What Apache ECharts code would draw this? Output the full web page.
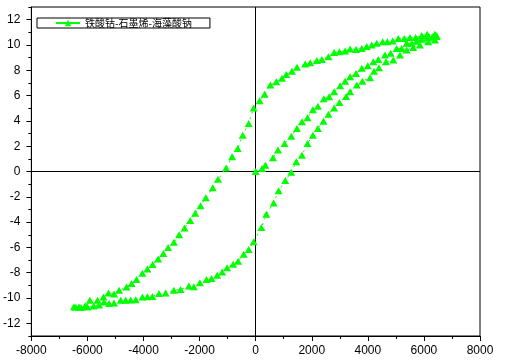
<!DOCTYPE html>
<html>
<head>
<meta charset="utf-8">
<script src="https://cdn.jsdelivr.net/npm/echarts@6/dist/echarts.min.js"></script>
<style>
html,body{margin:0;padding:0;background:#fff;}
#c{width:506px;height:361px;}
</style>
</head>
<body>
<div id="c"></div>
<script>
// ---- data (H in Oe, M in emu/g) ----
const seriesName = '铁酸钴-石墨烯-海藻酸钠';

// initial magnetization curve
const initH = [0, 228, 345, 619, 797, 1031, 1269, 1472, 1650, 1849, 2041, 2219, 2430, 2621, 2799, 3012, 3190, 3368, 3581, 3784, 3997, 4196, 4374, 4612, 4815, 5028, 5206, 5384, 5562, 5739, 5917, 6116, 6300, 6450];
const initM = [0, 0.24, 0.50, 1.08, 1.69, 2.22, 2.79, 3.40, 3.93, 4.25, 4.88, 5.15, 5.75, 5.91, 6.31, 6.78, 7.14, 7.49, 7.75, 8.15, 8.36, 8.68, 8.86, 9.20, 9.34, 9.73, 9.73, 10.13, 10.13, 10.30, 10.45, 10.55, 10.65, 10.75];

// descending branch
const descH = [6450, 6390, 6116, 5917, 5704, 5501, 5298, 5085, 4886, 4695, 4530, 4317, 4139, 3961, 3784, 3581, 3368, 3190, 2987, 2799, 2596, 2361, 2183, 1945, 1767, 1472, 1294, 1092, 939, 736, 523, 320, 142, -71, -249, -462, -640, -839, -1053, -1344, -1529, -1777, -1966, -2156, -2335, -2535, -2731, -2916, -3122, -3293, -3478, -3674, -3862, -4040, -4248, -4426, -4604, -4872, -5050, -5249, -5427, -5640, -5913, -6081, -6300, -6482];
const descM = [10.66, 10.84, 10.84, 10.74, 10.58, 10.58, 10.52, 10.52, 10.31, 10.26, 10.26, 10.13, 9.99, 9.87, 9.73, 9.65, 9.68, 9.52, 9.47, 9.41, 9.07, 8.86, 8.78, 8.60, 8.49, 8.23, 7.93, 7.67, 7.36, 7.10, 6.83, 6.10, 5.60, 5.02, 3.80, 2.87, 1.82, 1.16, 0.28, -0.62, -1.28, -2.07, -2.70, -3.30, -3.88, -4.47, -5.00, -5.60, -6.00, -6.48, -6.91, -7.35, -7.71, -8.04, -8.54, -8.85, -9.13, -9.39, -9.69, -9.60, -9.91, -10.18, -10.18, -10.60, -10.70, -10.68];

// ascending branch
const ascH = [-6410, -6233, -5996, -5780, -5583, -5405, -5227, -5050, -4811, -4634, -4456, -4278, -4040, -3862, -3684, -3449, -3211, -2916, -2678, -2382, -2205, -1991, -1753, -1575, -1373, -1195, -1017, -804, -626, -427, -249, -71, 203, 380, 640, 818, 1056, 1269, 1447, 1650, 1849, 2041, 2219, 2418, 2596, 2799, 2987, 3226, 3368, 3606, 3805, 4079, 4221, 4399, 4648, 4908, 5146, 5384, 5619, 5857, 6152, 6390];
const ascM = [-10.72, -10.74, -10.70, -10.62, -10.55, -10.31, -10.44, -10.40, -10.18, -10.18, -10.16, -10.14, -9.91, -9.90, -9.88, -9.65, -9.60, -9.39, -9.33, -9.05, -9.10, -8.80, -8.54, -8.45, -8.20, -7.94, -7.60, -7.33, -7.10, -6.54, -6.17, -5.56, -4.43, -3.38, -2.48, -1.53, -0.72, -0.06, 0.77, 1.29, 2.22, 2.87, 3.40, 3.97, 4.52, 5.02, 5.46, 5.93, 6.31, 6.83, 7.14, 7.41, 7.93, 8.20, 8.68, 8.81, 9.20, 9.60, 9.79, 9.99, 10.26, 10.39];

// axis ticks
const xTicks = [-8000, -6000, -4000, -2000, 0, 2000, 4000, 6000, 8000];
const yMajorTicks = [-12, -10, -8, -6, -4, -2, 0, 2, 4, 6, 8, 10, 12];
const yMinorTicks = [-13, -11, -9, -7, -5, -3, -1, 1, 3, 5, 7, 9, 11, 13];

// ---- build ----
const pts = [];
[[initH, initM], [descH, descM], [ascH, ascM]].forEach(([h, m]) => {
  for (let i = 0; i < h.length; i++) pts.push([h[i], m[i]]);
});

const labelFont = {color: '#000', fontSize: 12, fontFamily: 'Liberation Sans, Arial, sans-serif', formatter: v => String(v)};
const chart = echarts.init(document.getElementById('c'), null, {renderer: 'canvas'});
chart.setOption({
  animation: false,
  backgroundColor: '#fff',
  grid: {left: 30, right: 26, top: 7, bottom: 25, show: true, borderColor: '#000', borderWidth: 1, backgroundColor: 'transparent'},
  legend: {
    left: 37, top: 18,
    padding: [0, 18, 0, 18],
    borderColor: '#000', borderWidth: 1,
    itemWidth: 24, itemHeight: 8, itemGap: 4,
    textStyle: {color: '#000', fontSize: 10, fontFamily: 'Noto Sans CJK SC', lineHeight: 10},
    lineStyle: {type: 'solid', width: 2},
    data: [seriesName]
  },
  xAxis: {
    type: 'value', min: xTicks[0], max: xTicks[xTicks.length - 1], interval: 2000,
    axisLine: {onZero: false, lineStyle: {color: '#000', width: 1}},
    axisTick: {show: true, inside: false, length: 5, lineStyle: {color: '#000'}},
    minorTick: {show: true, splitNumber: 2, length: 3, lineStyle: {color: '#000'}},
    splitLine: {show: false},
    axisLabel: Object.assign({margin: 9}, labelFont)
  },
  yAxis: [{
    type: 'value', min: -13, max: 13,
    axisLine: {onZero: false, lineStyle: {color: '#000', width: 1}},
    axisTick: {show: true, inside: false, length: 5, customValues: yMajorTicks, lineStyle: {color: '#000'}},
    splitLine: {show: false},
    axisLabel: Object.assign({margin: 11, customValues: yMajorTicks}, labelFont)
  }, {
    type: 'value', min: -13, max: 13, position: 'left',
    axisLine: {show: false, onZero: false},
    axisTick: {show: true, inside: false, length: 3, customValues: yMinorTicks, lineStyle: {color: '#000'}},
    splitLine: {show: false},
    axisLabel: {show: false}
  }],
  series: [{
    name: seriesName,
    type: 'line',
    data: pts,
    symbol: 'triangle',
    symbolSize: [8, 7],
    showAllSymbol: true,
    itemStyle: {color: '#00ff00'},
    lineStyle: {color: '#00ff00', width: 1, type: [2, 4]},
    z: 3,
    markLine: {
      silent: true, symbol: 'none', animation: false,
      label: {show: false},
      lineStyle: {color: '#000', width: 1, type: 'solid'},
      data: [{xAxis: 0}, {yAxis: 0}],
      z: 1
    }
  }]
});
</script>
</body>
</html>
